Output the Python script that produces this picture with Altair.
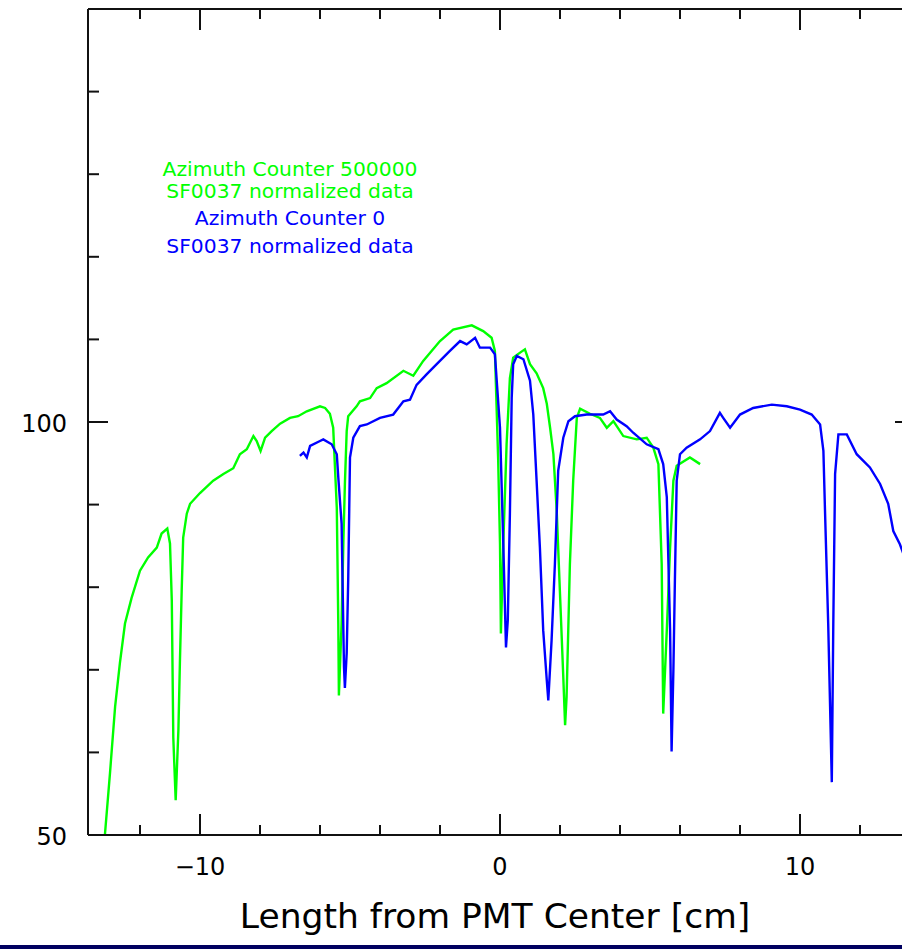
import altair as alt
import pandas as pd

# ---- data ----
green_x = [-13.17, -13.0, -12.83, -12.67, -12.5, -12.28, -12.0, -11.73, -11.44, -11.28, -11.09,
           -11.0, -10.94, -10.89, -10.81, -10.72, -10.67, -10.61, -10.56, -10.44, -10.33,
           -10.0, -9.56, -9.22, -8.89, -8.67, -8.44, -8.22, -8.11, -7.98, -7.83, -7.61, -7.33,
           -7.0, -6.73, -6.44, -6.0, -5.83, -5.67, -5.56, -5.44, -5.39, -5.37, -5.28, -5.22,
           -5.17, -5.11, -5.06, -4.78, -4.67, -4.33, -4.11, -3.78, -3.22, -2.89, -2.56, -2.0,
           -1.56, -0.94, -0.56, -0.28, -0.17, -0.06, 0.0, 0.03, 0.11, 0.22, 0.33, 0.44, 0.67,
           0.83, 1.0, 1.22, 1.44, 1.56, 1.67, 1.78, 1.89, 2.0, 2.11, 2.17, 2.22, 2.33, 2.44,
           2.56, 2.67, 3.0, 3.33, 3.56, 3.78, 4.11, 4.56, 4.89, 5.11, 5.28, 5.39, 5.44, 5.56,
           5.67, 5.78, 5.89, 6.33, 6.67]
green_y = [50.0, 57.5, 65.5, 70.8, 75.6, 78.7, 82.0, 83.6, 84.8, 86.5, 87.1,
           85.3, 78.4, 61.8, 54.2, 62.7, 70.8, 79.6, 86.0, 88.9, 90.1,
           91.4, 92.9, 93.7, 94.4, 96.1, 96.7, 98.3, 97.7, 96.5, 98.1, 98.9, 99.8,
           100.5, 100.7, 101.3, 101.9, 101.7, 101.0, 99.3, 89.6, 75.6, 66.9, 75.6, 85.6,
           92.5, 98.9, 100.7, 101.9, 102.5, 102.9, 104.1, 104.7, 106.2, 105.6, 107.4, 109.8,
           111.2, 111.7, 111.0, 110.2, 108.6, 95.3, 85.3, 74.4, 85.3, 97.3, 105.3, 107.8, 108.4,
           108.8, 107.0, 105.9, 104.1, 102.2, 99.3, 96.1, 89.3, 79.2, 69.1, 63.3, 66.7, 82.8, 92.9,
           100.5, 101.6, 101.0, 100.5, 99.3, 100.1, 98.3, 97.9, 98.1, 96.9, 94.9, 82.8, 64.7, 74.8,
           84.8, 92.9, 94.7, 95.7, 94.9]

blue_x = [-6.67, -6.55, -6.44, -6.33, -6.0, -5.89, -5.61, -5.44, -5.39, -5.28, -5.2, -5.17,
          -5.11, -5.06, -5.0, -4.89, -4.67, -4.44, -4.0, -3.56, -3.22, -3.0, -2.78, -2.44,
          -2.11, -1.67, -1.33, -1.11, -0.83, -0.67, -0.33, -0.17, 0.0, 0.11, 0.2, 0.26, 0.33,
          0.39, 0.44, 0.56, 0.78, 1.0, 1.11, 1.22, 1.33, 1.44, 1.56, 1.61, 1.72, 1.83, 1.94,
          2.11, 2.28, 2.5, 2.89, 3.44, 3.67, 3.89, 4.22, 4.44, 4.89, 5.28, 5.44, 5.56, 5.67,
          5.72, 5.78, 5.83, 5.89, 6.0, 6.22, 6.67, 7.0, 7.33, 7.44, 7.67, 8.0, 8.44, 9.06,
          9.56, 10.0, 10.39, 10.67, 10.78, 10.83, 10.94, 11.06, 11.11, 11.17, 11.28, 11.56,
          11.89, 12.33, 12.67, 12.94, 13.11, 13.33, 13.5]
blue_y = [95.9, 96.3, 95.7, 97.1, 97.7, 97.9, 97.3, 96.1, 93.3, 87.7, 70.3, 67.8,
          72.0, 80.8, 95.7, 98.1, 99.5, 99.7, 100.5, 100.9, 102.5, 102.7, 104.5, 105.8,
          107.0, 108.6, 109.8, 109.4, 110.2, 109.0, 109.0, 108.2, 99.3, 85.2, 72.7, 76.0, 88.9,
          102.9, 107.0, 108.0, 107.6, 105.0, 100.9, 92.9, 84.8, 74.8, 68.7, 66.3, 73.6, 82.8, 94.1,
          98.1, 100.1, 100.7, 100.9, 100.9, 101.3, 100.3, 99.5, 98.7, 97.3, 96.7, 94.9, 90.9, 74.8,
          60.1, 70.0, 80.8, 92.9, 96.1, 96.9, 97.9, 98.9, 101.1, 100.5, 99.3, 100.9, 101.7, 102.1,
          101.9, 101.5, 100.9, 99.7, 96.5, 89.7, 75.6, 56.4, 75.6, 93.7, 98.5, 98.5,
          96.1, 94.5, 92.5, 90.1, 86.8, 85.2, 83.5]

series_names = ["Azimuth Counter 500000", "Azimuth Counter 0"]
series_colors = ["#00ff00", "#0000ff"]
annotation_lines = ["Azimuth Counter 500000", "SF0037 normalized data",
                    "Azimuth Counter 0", "SF0037 normalized data"]
x_title = "Length from PMT Center [cm]"

x_major_ticks = [-10, 0, 10]
x_minor_ticks = [-12, -8, -6, -4, -2, 2, 4, 6, 8, 12]
y_major_ticks = [100]
y_minor_ticks = [60, 70, 80, 90, 110, 120, 130, 140]
x_label_values = [-10, 0, 10]
y_label_values = [50, 100]
x_domain = [-13.733, 13.4]
y_domain = [50, 150]

# ---- layout ----
W, H = 814, 826
FONT = "DejaVu Sans"
FRAME = "#111111"
XU = W / (x_domain[1] - x_domain[0])   # px per x unit
YU = H / (y_domain[1] - y_domain[0])   # px per y unit

df = pd.concat([
    pd.DataFrame({"x": green_x, "y": green_y, "series": series_names[0], "o": range(len(green_x))}),
    pd.DataFrame({"x": blue_x, "y": blue_y, "series": series_names[1], "o": range(len(blue_x))}),
])

xscale = alt.Scale(domain=x_domain, nice=False, zero=False)
yscale = alt.Scale(domain=y_domain, nice=False, zero=False)
X = lambda f: alt.X(f, type="quantitative", scale=xscale, axis=None)
Y = lambda f: alt.Y(f, type="quantitative", scale=yscale, axis=None)

lines = alt.Chart(df).mark_line(strokeWidth=2.4, clip=True, interpolate="linear").encode(
    x=X("x"), y=Y("y"),
    color=alt.Color("series:N", scale=alt.Scale(domain=series_names, range=series_colors), legend=None),
    detail="series:N",
    order="o:Q",
)

# inward frame ticks: one small rule per tick, placed from the tick value via the axis mapping
def px_x(v):
    return (v - x_domain[0]) * XU

def px_y(v):
    return (y_domain[1] - v) * YU

tick_layers = []
for i, v in enumerate(x_major_ticks + x_minor_ticks):
    ln = 21 if v in x_major_ticks else 10
    d = pd.DataFrame({"tick": [f"x{i}"]})
    tick_layers.append(alt.Chart(d).mark_rule(color=FRAME, strokeWidth=2).encode(
        x=alt.value(px_x(v)), y=alt.value(H), y2=alt.value(H - ln)))
    tick_layers.append(alt.Chart(d).mark_rule(color=FRAME, strokeWidth=2).encode(
        x=alt.value(px_x(v)), y=alt.value(0), y2=alt.value(ln)))
for i, v in enumerate(y_major_ticks + y_minor_ticks):
    ln = 20 if v in y_major_ticks else 11
    d = pd.DataFrame({"tick": [f"y{i}"]})
    tick_layers.append(alt.Chart(d).mark_rule(color=FRAME, strokeWidth=2).encode(
        y=alt.value(px_y(v)), x=alt.value(0), x2=alt.value(ln)))
    if v in y_major_ticks:
        tick_layers.append(alt.Chart(d).mark_rule(color=FRAME, strokeWidth=2).encode(
            y=alt.value(px_y(v)), x=alt.value(W - 7), x2=alt.value(W)))

one = pd.DataFrame({"k": [0]})
frame = [
    alt.Chart(one).mark_rule(color=FRAME, strokeWidth=2).encode(
        x=alt.value(0), x2=alt.value(W), y=alt.value(0)),
    alt.Chart(one).mark_rule(color=FRAME, strokeWidth=2).encode(
        x=alt.value(0), x2=alt.value(W), y=alt.value(H)),
    alt.Chart(one).mark_rule(color=FRAME, strokeWidth=2).encode(
        x=alt.value(0), y=alt.value(0), y2=alt.value(H)),
]

x_labels = alt.Chart(pd.DataFrame({"x": x_label_values})).mark_text(
    font=FONT, fontSize=24, align="center", baseline="alphabetic", color="black").encode(
    x=X("x"), y=alt.value(H + 40), text=alt.Text("x:Q", format="d"))
y_labels = alt.Chart(pd.DataFrame({"y": y_label_values})).mark_text(
    font=FONT, fontSize=24, align="right", baseline="alphabetic", dy=10, color="black").encode(
    y=Y("y"), x=alt.value(-21), text=alt.Text("y:Q", format="d"))
title = alt.Chart(pd.DataFrame({"t": [x_title]})).mark_text(
    font=FONT, fontSize=34.5, align="center", baseline="alphabetic", color="black").encode(
    x=alt.value(407), y=alt.value(919), text="t:N")

ann_y = [167, 189, 216, 244]
ann_c = [series_colors[0], series_colors[0], series_colors[1], series_colors[1]]
texts = []
for lbl, yy, cc in zip(annotation_lines, ann_y, ann_c):
    texts.append(alt.Chart(pd.DataFrame({"label": [lbl]})).mark_text(
        font=FONT, fontSize=20.3, align="center", baseline="alphabetic").encode(
        x=alt.value(202), y=alt.value(yy), text="label:N", color=alt.value(cc)))

bar = alt.Chart(one).mark_rect(color="#000060", clip=False).encode(
    x=alt.value(-88), x2=alt.value(W), y=alt.value(936), y2=alt.value(940))

chart = alt.layer(lines, *tick_layers, *frame, x_labels, y_labels, title, *texts, bar).properties(
    width=W, height=H, autosize="none",
    padding={"left": 88, "top": 9, "right": 0, "bottom": 114},
    background="white",
).configure_view(strokeWidth=0)

chart.save("out.html", embed_options={"renderer": "svg", "actions": False})
